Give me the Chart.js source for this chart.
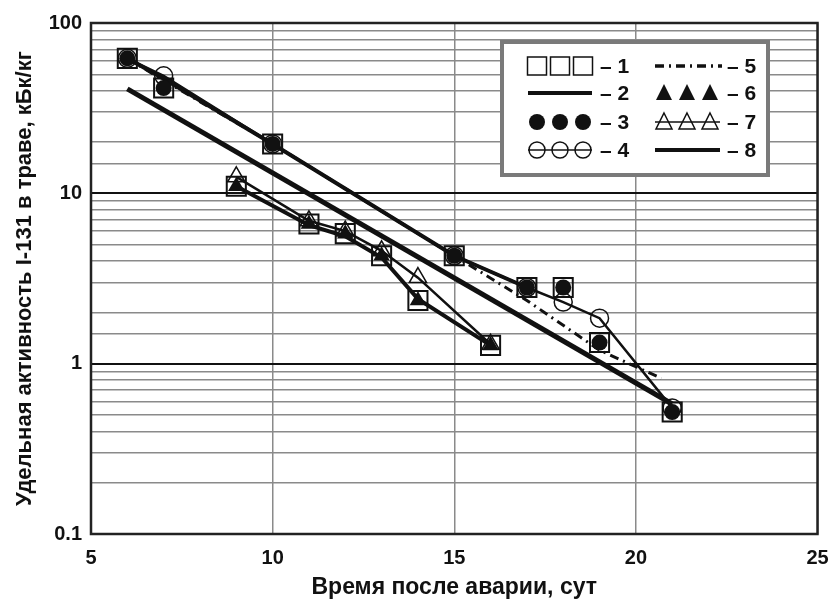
<!DOCTYPE html>
<html>
<head>
<meta charset="utf-8">
<script src="https://cdn.jsdelivr.net/npm/chart.js@4"></script>
<style>
  html, body { margin: 0; padding: 0; background: #fff; }
  #wrap { width: 833px; height: 601px; }
</style>
</head>
<body>
<div id="wrap"><canvas id="chart"></canvas></div>
<script>
// days after the accident
const daysA = [6, 7, 10, 15, 17, 18, 19, 21];
const daysB = [9, 11, 12, 13, 14, 16];

// 1 - squares, 3 - filled circles, 6 - filled triangles
const squaresA = [62, 41.5, 19.5, 4.3, 2.8, 2.8, 1.33, 0.52];
const squaresB = [11, 6.6, 5.8, 4.3, 2.35, 1.28];
const circles3 = [62, 41.5, 19.5, 4.3, 2.8, 2.8, 1.33, 0.52];
const triangles6 = [11, 6.6, 5.8, 4.3, 2.35, 1.28];

// 2 - thick curves
const days2A = [6, 7, 10, 15, 17];
const curve2A = [62, 47, 19.5, 4.3, 2.8];
const curve2B = [11, 6.5, 5.6, 4.2, 2.4, 1.28];

// 4 - open circles on a thin line
const curve4 = [62, 49, 19.5, 4.3, 2.8, 2.3, 1.85, 0.55];

// 5 - dash-dot curve
const days5 = [6, 7, 10, 15, 17, 19, 20.7];
const curve5 = [62, 46, 19.5, 4.3, 2.35, 1.2, 0.82];

// 7 - open triangles on a thin line
const curve7 = [12.5, 6.9, 6.0, 4.6, 3.2, 1.3];

// 8 - straight fit
const days8 = [6, 21];
const fit8 = [41, 0.58];

const xTicks = [5, 10, 15, 20, 25];
const yTicks = [0.1, 1, 10, 100];

const FONT = '"Liberation Sans", Arial, sans-serif';
const INK = '#111';

function pts(xs, ys) {
    return xs.map((x, i) => ({ x: x, y: ys[i] }));
}

function isDecade(v) {
    const l = Math.log10(v);
    return Math.abs(l - Math.round(l)) < 1e-6;
}

// frame round the plot area
const frame = {
    id: 'frame',
    afterDatasetsDraw(chart) {
        const { ctx, chartArea: a } = chart;
        ctx.save();
        ctx.lineWidth = 2.5;
        ctx.strokeStyle = '#222';
        ctx.strokeRect(a.left, a.top, a.right - a.left, a.bottom - a.top);
        ctx.restore();
    }
};

// legend box with numbered symbols
const legendBox = {
    id: 'legendBox',
    afterDraw(chart) {
        const ctx = chart.ctx;
        const rows = [66, 93, 122, 150];
        const c1 = [537, 560, 583];
        const c2 = [664, 687, 710];
        ctx.save();
        ctx.fillStyle = '#fff';
        ctx.fillRect(502, 42, 266, 133);
        ctx.lineWidth = 4;
        ctx.strokeStyle = '#7a7a7a';
        ctx.strokeRect(502, 42, 266, 133);

        ctx.strokeStyle = INK;
        ctx.fillStyle = INK;

        // 1 squares
        ctx.lineWidth = 1.5;
        c1.forEach(x => ctx.strokeRect(x - 9.5, rows[0] - 9, 19, 18));
        // 2 thick line
        ctx.lineWidth = 4;
        ctx.beginPath(); ctx.moveTo(528, rows[1]); ctx.lineTo(592, rows[1]); ctx.stroke();
        // 3 filled circles
        c1.forEach(x => { ctx.beginPath(); ctx.arc(x, rows[2], 8, 0, Math.PI * 2); ctx.fill(); });
        // 4 open circles with line
        ctx.lineWidth = 1.5;
        c1.forEach(x => { ctx.beginPath(); ctx.arc(x, rows[3], 8, 0, Math.PI * 2); ctx.stroke(); });
        ctx.beginPath(); ctx.moveTo(528, rows[3]); ctx.lineTo(592, rows[3]); ctx.stroke();
        // 5 dash-dot
        ctx.lineWidth = 3.5;
        ctx.setLineDash([9, 5, 2, 5]);
        ctx.beginPath(); ctx.moveTo(655, rows[0]); ctx.lineTo(722, rows[0]); ctx.stroke();
        ctx.setLineDash([]);
        // 6 filled triangles
        c2.forEach(x => {
            ctx.beginPath(); ctx.moveTo(x, rows[1] - 9); ctx.lineTo(x + 8, rows[1] + 7); ctx.lineTo(x - 8, rows[1] + 7);
            ctx.closePath(); ctx.fill();
        });
        // 7 open triangles with line
        ctx.lineWidth = 1.5;
        c2.forEach(x => {
            ctx.beginPath(); ctx.moveTo(x, rows[2] - 9); ctx.lineTo(x + 8, rows[2] + 7); ctx.lineTo(x - 8, rows[2] + 7);
            ctx.closePath(); ctx.stroke();
        });
        ctx.beginPath(); ctx.moveTo(655, rows[2]); ctx.lineTo(720, rows[2]); ctx.stroke();
        // 8 thick line
        ctx.lineWidth = 4;
        ctx.beginPath(); ctx.moveTo(655, rows[3]); ctx.lineTo(720, rows[3]); ctx.stroke();

        ctx.font = 'bold 21px ' + FONT;
        ctx.textBaseline = 'middle';
        ctx.textAlign = 'left';
        ['1', '2', '3', '4'].forEach((t, i) => ctx.fillText('\u2013 ' + t, 600, rows[i] + 1));
        ['5', '6', '7', '8'].forEach((t, i) => ctx.fillText('\u2013 ' + t, 727, rows[i] + 1));
        ctx.restore();
    }
};

const ctx = document.getElementById('chart').getContext('2d');
const chart = new Chart(ctx, {
    type: 'line',
    data: {
        datasets: [
            {
                label: '1',
                data: pts(daysA.concat(daysB), squaresA.concat(squaresB)),
                showLine: false,
                pointStyle: 'rect',
                pointRadius: 13.5,
                pointBorderWidth: 2,
                pointBorderColor: INK,
                pointBackgroundColor: 'rgba(0,0,0,0)',
                order: 0
            },
            {
                label: '3',
                data: pts(daysA, circles3),
                showLine: false,
                pointStyle: 'circle',
                pointRadius: 8,
                pointBorderWidth: 0,
                pointBackgroundColor: INK,
                order: 1
            },
            {
                label: '6',
                data: pts(daysB, triangles6),
                showLine: false,
                pointStyle: 'triangle',
                pointRadius: 9.5,
                pointBorderWidth: 0,
                pointBackgroundColor: INK,
                order: 1
            },
            {
                label: '4',
                data: pts(daysA, curve4),
                borderColor: INK,
                borderWidth: 2.5,
                pointStyle: 'circle',
                pointRadius: 9,
                pointBorderWidth: 1.5,
                pointBorderColor: INK,
                pointBackgroundColor: 'rgba(0,0,0,0)',
                order: 2
            },
            {
                label: '7',
                data: pts(daysB, curve7),
                borderColor: INK,
                borderWidth: 2.5,
                pointStyle: 'triangle',
                pointRadius: 10,
                pointBorderWidth: 1.5,
                pointBorderColor: INK,
                pointBackgroundColor: 'rgba(0,0,0,0)',
                order: 2
            },
            {
                label: '5',
                data: pts(days5, curve5),
                borderColor: INK,
                borderWidth: 3,
                borderDash: [9, 5, 2, 5],
                pointRadius: 0,
                order: 3
            },
            {
                label: '2',
                data: pts(days2A, curve2A),
                borderColor: INK,
                borderWidth: 4,
                pointRadius: 0,
                order: 4
            },
            {
                label: '2',
                data: pts(daysB, curve2B),
                borderColor: INK,
                borderWidth: 4,
                pointRadius: 0,
                order: 4
            },
            {
                label: '8',
                data: pts(days8, fit8),
                borderColor: INK,
                borderWidth: 5,
                pointRadius: 0,
                order: 5
            }
        ]
    },
    options: {
        responsive: true,
        maintainAspectRatio: false,
        animation: false,
        layout: { padding: { top: 23, right: 11, left: 0, bottom: 0 } },
        plugins: {
            legend: { display: false },
            tooltip: { enabled: false }
        },
        scales: {
            x: {
                type: 'linear',
                min: 5,
                max: 25,
                afterFit: s => { s.height = 67; s.paddingLeft = 0; s.paddingRight = 0; },
                afterBuildTicks: s => { s.ticks = xTicks.map(v => ({ value: v })); },
                ticks: {
                    color: INK,
                    padding: 12,
                    maxRotation: 0,
                    font: { family: FONT, size: 20, weight: 'bold' }
                },
                grid: { color: '#8a8a8a', lineWidth: 1.5, drawTicks: false },
                border: { display: false },
                title: {
                    display: true,
                    text: 'Время после аварии, сут',
                    color: INK,
                    padding: { top: 0, bottom: 0 },
                    font: { family: FONT, size: 23, weight: 'bold' }
                }
            },
            y: {
                type: 'logarithmic',
                min: 0.1,
                max: 100,
                afterFit: s => { s.width = 91; s.paddingTop = 0; s.paddingBottom = 0; },
                ticks: {
                    color: INK,
                    padding: 9,
                    autoSkip: false,
                    font: { family: FONT, size: 20, weight: 'bold' },
                    callback: v => (yTicks.includes(Number(v.toPrecision(3))) ? String(Number(v.toPrecision(3))) : '')
                },
                grid: {
                    drawTicks: false,
                    color: c => (isDecade(c.tick.value) ? '#111' : '#8a8a8a'),
                    lineWidth: c => (isDecade(c.tick.value) ? 2 : 1.5)
                },
                border: { display: false },
                title: {
                    display: true,
                    text: 'Удельная активность I-131 в траве, кБк/кг',
                    color: INK,
                    padding: { top: 12, bottom: 0 },
                    font: { family: FONT, size: 22, weight: 'bold' }
                }
            }
        }
    },
    plugins: [frame, legendBox]
});
</script>
</body>
</html>
